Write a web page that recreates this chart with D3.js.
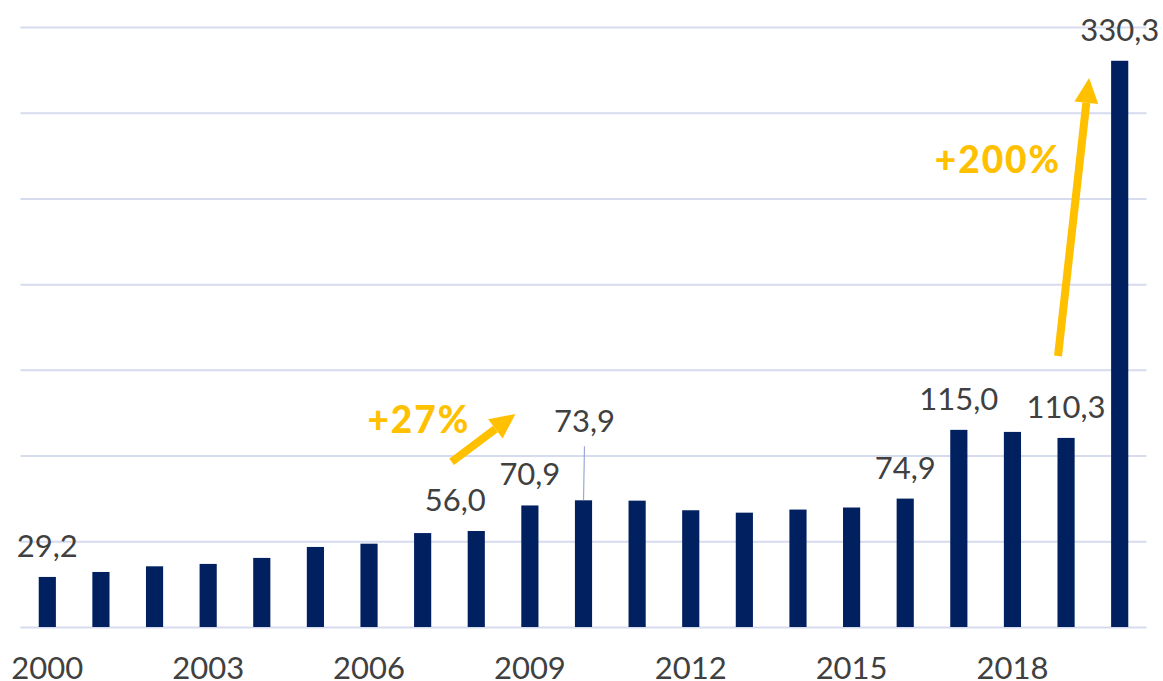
<!DOCTYPE html>
<html>
<head>
<meta charset="utf-8">
<script src="https://cdn.jsdelivr.net/npm/d3@7"></script>
<style>
  html, body { margin: 0; padding: 0; background: #fff; }
  svg { display: block; font-family: Lato, "Open Sans", sans-serif; }
</style>
</head>
<body>
<script>
// values
var years = d3.range(2000, 2021);
var values = [29.2, 32.1, 35.4, 36.8, 40.3, 46.7, 48.6, 54.8, 56.0, 70.9,
              73.9, 73.7, 68.1, 66.7, 68.5, 69.7, 74.9, 115.0, 113.8, 110.3, 330.3];
var labelledYears = [2000, 2008, 2009, 2010, 2016, 2017, 2019, 2020];
var xTickYears = [2000, 2003, 2006, 2009, 2012, 2015, 2018];
var yTicks = d3.range(0, 351, 50);

// growth arrows, in year / value units
var growth = [
  {text: "+27%",  from: [2007.54, 96.3],  to: [2008.73, 124.3], textAt: [2006.93, 113]},
  {text: "+200%", from: [2018.85, 158.1], to: [2019.43, 320.3], textAt: [2017.73, 265]}
];

var width = 1163, height = 681;
var plotLeft = 20.5, plotRight = 1146.5, plotTop = 27, plotBottom = 627;
var navy = "#002060", grid = "#d6dbee", ink = "#404040", gold = "#ffc000";

var svg = d3.select("body").append("svg")
    .attr("width", width)
    .attr("height", height);

var x = d3.scaleBand()
    .domain(years)
    .range([plotLeft, plotRight])
    .paddingInner(0.68)
    .paddingOuter(0.34);

var y = d3.scaleLinear()
    .domain([0, 350])
    .range([plotBottom, plotTop]);

// continuous year scale for annotations between bars
var xc = d3.scaleLinear()
    .domain([2000, 2020])
    .range([x(2000) + x.bandwidth() / 2, x(2020) + x.bandwidth() / 2]);

// gridlines
var gy = svg.append("g")
    .attr("transform", "translate(" + plotLeft + ",0)")
    .call(d3.axisLeft(y).tickValues(yTicks).tickSize(-(plotRight - plotLeft)).tickFormat(""));
gy.select(".domain").remove();
gy.selectAll("line").attr("stroke", grid).attr("stroke-width", 2);

// bars
svg.append("g").selectAll("rect")
    .data(years)
    .join("rect")
    .attr("x", function(d){ return x(d); })
    .attr("y", function(d, i){ return y(values[i]); })
    .attr("width", x.bandwidth())
    .attr("height", function(d, i){ return y(0) - y(values[i]); })
    .attr("fill", navy);

// x axis
var gx = svg.append("g")
    .attr("transform", "translate(0," + plotBottom + ")")
    .call(d3.axisBottom(x).tickValues(xTickYears).tickSize(0).tickPadding(0));
gx.select(".domain").remove();
gx.selectAll("text")
    .attr("y", 52)
    .attr("dy", 0)
    .attr("fill", ink)
    .style("font-size", "31px")
    .style("font-family", "Lato, sans-serif");

// value labels
var labelShift = {2008: [-21, 0], 2010: [1, -48]};
function fmt(v){ return d3.format(".1f")(v).replace(".", ","); }

var labels = svg.append("g");
labelledYears.forEach(function(yr){
    var v = values[years.indexOf(yr)];
    var s = labelShift[yr] || [0, 0];
    var cx = x(yr) + x.bandwidth() / 2;
    if (yr === 2010) {
        labels.append("line")
            .attr("x1", cx + 1).attr("y1", y(v) + s[1] - 6)
            .attr("x2", cx).attr("y2", y(v))
            .attr("stroke", "#9aa8d6").attr("stroke-width", 1.2);
    }
    labels.append("text")
        .attr("x", cx + s[0])
        .attr("y", y(v) - 20 + s[1])
        .attr("text-anchor", "middle")
        .attr("fill", ink)
        .style("font-size", "31px")
        .text(fmt(v));
});

// growth arrows
growth.forEach(function(a){
    var x0 = xc(a.from[0]), y0 = y(a.from[1]);
    var x1 = xc(a.to[0]), y1 = y(a.to[1]);
    var ang = Math.atan2(y1 - y0, x1 - x0);
    var headLen = 25, headHalf = 12;
    var bx = x1 - headLen * Math.cos(ang), by = y1 - headLen * Math.sin(ang);
    var nx = -Math.sin(ang), ny = Math.cos(ang);
    svg.append("line")
        .attr("x1", x0).attr("y1", y0)
        .attr("x2", bx).attr("y2", by)
        .attr("stroke", gold).attr("stroke-width", 8);
    svg.append("path")
        .attr("d", d3.line()([[x1, y1], [bx + nx * headHalf, by + ny * headHalf], [bx - nx * headHalf, by - ny * headHalf]]) + "Z")
        .attr("fill", gold);
    svg.append("text")
        .attr("x", xc(a.textAt[0]))
        .attr("y", y(a.textAt[1]))
        .attr("text-anchor", "middle")
        .attr("fill", gold)
        .style("font-size", "37px")
        .style("font-weight", "900")
        .style("letter-spacing", "2px")
        .text(a.text);
});
</script>
</body>
</html>
